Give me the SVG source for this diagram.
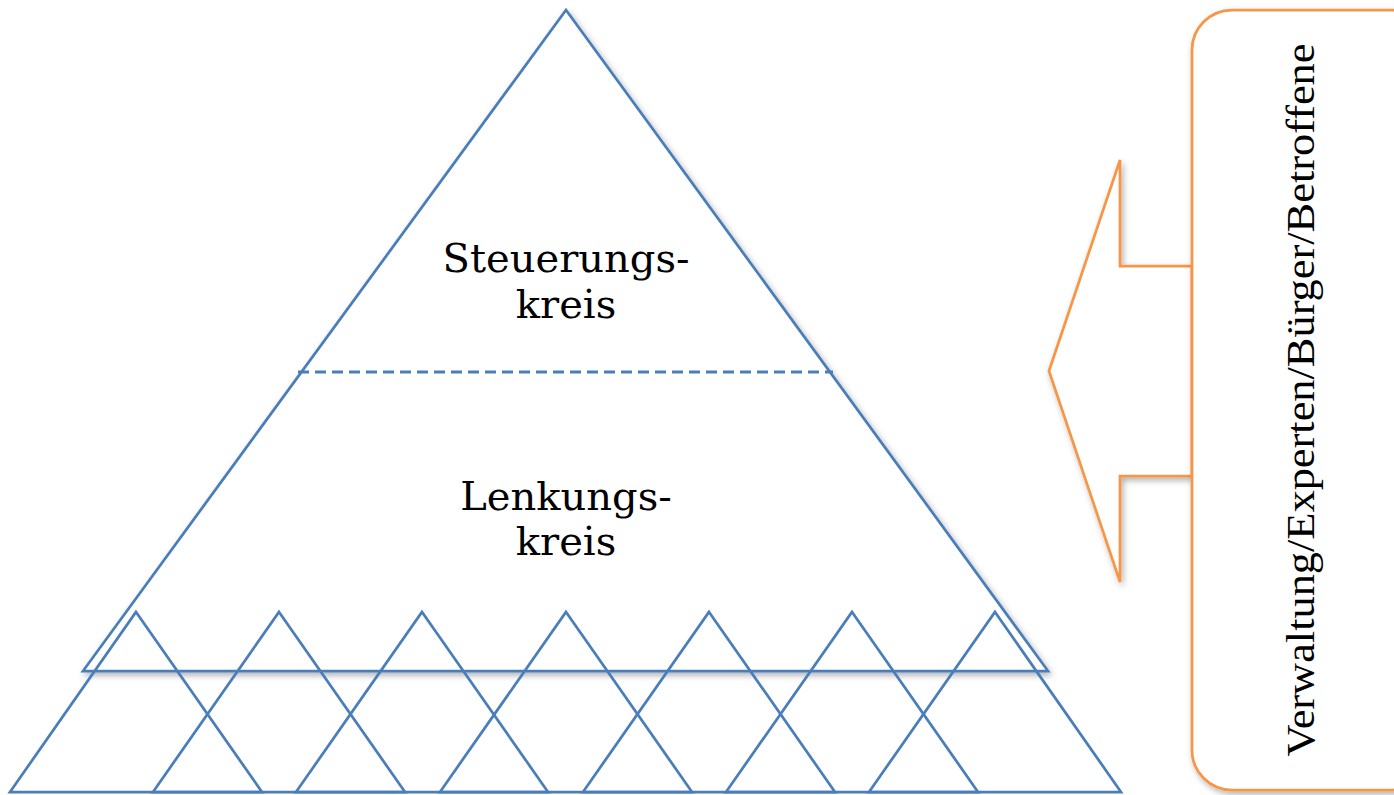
<svg xmlns="http://www.w3.org/2000/svg" width="1394" height="795" viewBox="0 0 1394 795">
<defs>
<filter id="sh" x="-10%" y="-10%" width="120%" height="120%">
<feDropShadow dx="2" dy="3" stdDeviation="3" flood-color="#000" flood-opacity="0.3"/>
</filter>
<style>
.blue{fill:none;stroke:#4A7EBB;stroke-width:2.75;stroke-linejoin:miter}
.org{fill:#fff;stroke:#F79646;stroke-width:2.75}
.lbl{font-family:"DejaVu Serif",serif;font-size:40px;fill:#000;text-anchor:middle}
.vt{font-family:"Liberation Serif","Times New Roman",serif;font-size:41px;fill:#000;text-anchor:middle}
</style>
</defs>
<rect width="1394" height="795" fill="#fff"/>
<g id="pyramid">
<polygon points="566,10 1048,671 83,671" fill="#fff" stroke="#4A7EBB" stroke-width="2.75" filter="url(#sh)"/>
</g>
<g id="connectors">
<line x1="298" y1="372" x2="833" y2="372" stroke="#4A7EBB" stroke-width="3" stroke-dasharray="11,6"/>
</g>
<g id="steuerungskreis">
<text class="lbl" x="566" y="272">Steuerungs-</text>
<text class="lbl" x="566" y="318">kreis</text>
</g>
<g id="lenkungskreis">
<text class="lbl" x="566" y="510">Lenkungs-</text>
<text class="lbl" x="566" y="555">kreis</text>
</g>
<g id="small-triangles">
<polygon class="blue" points="136,612 262,792 10,792"/>
<polygon class="blue" points="279,612 405,792 153,792"/>
<polygon class="blue" points="422,612 548,792 296,792"/>
<polygon class="blue" points="566,612 692,792 440,792"/>
<polygon class="blue" points="709,612 835,792 583,792"/>
<polygon class="blue" points="852,612 978,792 726,792"/>
<polygon class="blue" points="995,612 1121,792 869,792"/>
</g>
<g id="arrow">
<polygon class="org" filter="url(#sh)" points="1049,371 1120,160 1120,266 1192,266 1192,476 1120,476 1120,582"/>
</g>
<g id="actors">
<rect class="org" filter="url(#sh)" x="1192" y="10" width="240" height="780" rx="40" ry="40"/>
<text class="vt" transform="translate(1314,400) rotate(-90)" x="0" y="0" textLength="713" lengthAdjust="spacingAndGlyphs">Verwaltung/Experten/Bürger/Betroffene</text>
</g>
</svg>
